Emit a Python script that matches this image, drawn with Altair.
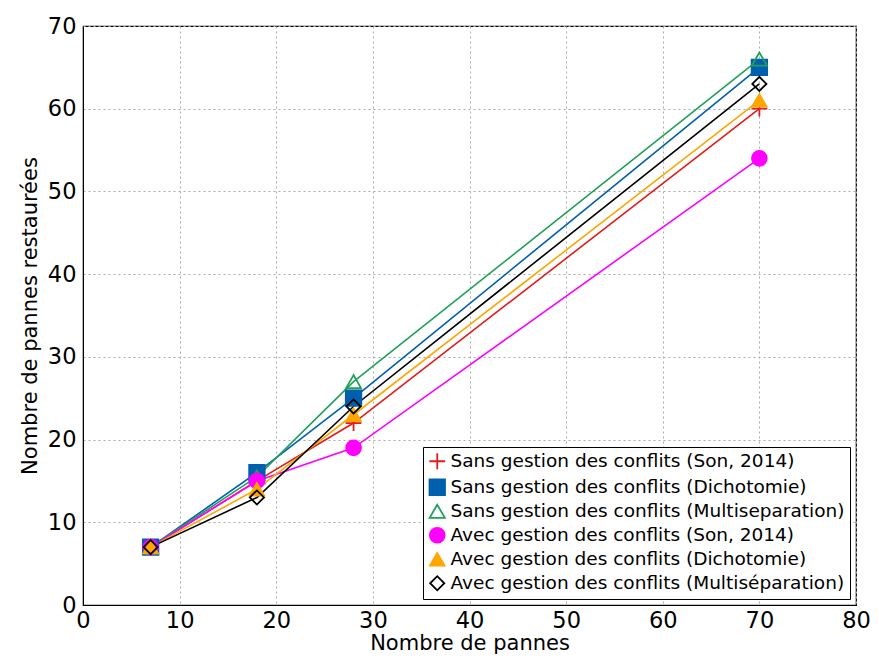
import altair as alt
import pandas as pd

x_vals = [7, 18, 28, 70]
series_names = [
    "Sans gestion des conflits (Son, 2014)",
    "Sans gestion des conflits (Dichotomie)",
    "Sans gestion des conflits (Multiseparation)",
    "Avec gestion des conflits (Son, 2014)",
    "Avec gestion des conflits (Dichotomie)",
    "Avec gestion des conflits (Multiséparation)",
]
sans_son = [7, 15, 22, 60]
sans_dicho = [7, 16, 25, 65]
sans_multi = [7, 15.5, 27, 66]
avec_son = [7, 15, 19, 54]
avec_dicho = [7, 14, 23, 61]
avec_multi = [7, 13, 24, 63]
all_values = [sans_son, sans_dicho, sans_multi, avec_son, avec_dicho, avec_multi]

colors = ["#e41a1c", "#0060ad", "#20a05a", "#ff00ff", "#ffa500", "#000000"]
fills = ["#e41a1c", "#0060ad", "transparent", "#ff00ff", "#ffa500", "transparent"]
shapes = ["M-1,0H1M0,-1V1", "square", "triangle-up", "circle", "triangle-up", "diamond"]
sizes = [250, 200, 420, 120, 300, 100]

rows = []
for name, vals in zip(series_names, all_values):
    for xv, yv in zip(x_vals, vals):
        rows.append({"x": xv, "y": yv, "series": name})
df = pd.DataFrame(rows)

font = "DejaVu Sans"
xenc = alt.X("x:Q", scale=alt.Scale(domain=[0, 80], nice=False),
             axis=alt.Axis(values=list(range(0, 81, 10)), title="Nombre de pannes",
                           labelPadding=4, titlePadding=1, labelFlush=False))
yenc = alt.Y("y:Q", scale=alt.Scale(domain=[0, 70], nice=False),
             axis=alt.Axis(values=list(range(0, 71, 10)), title="Nombre de pannes restaurées",
                           labelPadding=7, titlePadding=7, labelFlush=False))

color = alt.Color("series:N", scale=alt.Scale(domain=series_names, range=colors),
                  legend=alt.Legend(title=None))

lines = alt.Chart(df).mark_line(strokeWidth=1.6).encode(
    x=xenc, y=yenc, color=color, detail="series:N"
)
points = alt.Chart(df).mark_point(strokeWidth=1.8, opacity=1).encode(
    x=xenc, y=yenc,
    color=color,
    shape=alt.Shape("series:N", scale=alt.Scale(domain=series_names, range=shapes), legend=alt.Legend(title=None)),
    fill=alt.Fill("series:N", scale=alt.Scale(domain=series_names, range=fills), legend=alt.Legend(title=None)),
    size=alt.Size("series:N", scale=alt.Scale(domain=series_names, range=sizes), legend=alt.Legend(title=None)),
)

chart = alt.layer(lines, points).properties(
    width=863, height=646,
    autosize=alt.AutoSizeParams(type="fit", contains="padding"),
    padding={"top": 7, "left": 11, "right": 0, "bottom": 0},
).configure_view(
    stroke="black", strokeWidth=1.2
).configure_axis(
    labelFont=font, titleFont=font, labelFontSize=22.5, titleFontSize=21,
    titleFontWeight="normal", labelColor="black", titleColor="black",
    grid=True, gridColor="#aaaaaa", gridDash=[2, 3], gridWidth=1,
    domainColor="black", ticks=False,
).configure_legend(
    orient="bottom-right", offset=6, fillColor="white", strokeColor="black",
    padding=5, labelFont=font, labelFontSize=18.5, labelColor="black",
    rowPadding=2, symbolStrokeWidth=1.8, labelLimit=600,
)

chart.save("out.html", embed_options={"renderer": "svg", "actions": False})
